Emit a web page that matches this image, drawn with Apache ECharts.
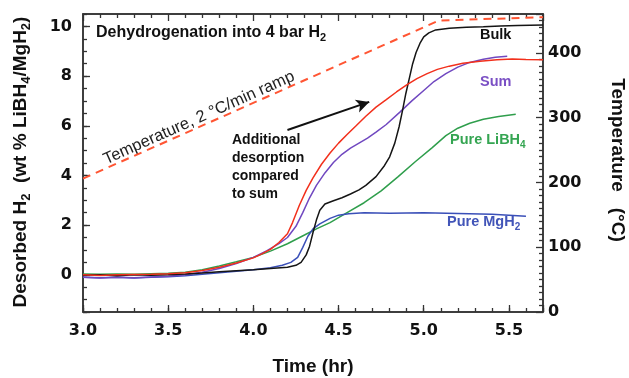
<!DOCTYPE html>
<html><head><meta charset="utf-8">
<script src="https://cdn.jsdelivr.net/npm/echarts@6/dist/echarts.min.js"></script>
<style>html,body{margin:0;padding:0;background:#fff}#c{width:629px;height:378px}</style>
</head><body><div id="c"></div>
<script>
// ---- data (time in hr, desorbed H2 in wt %, temperature in °C) ----
const measuredH2 = [[3.0,0.0],[3.1,-0.03],[3.2,0.0],[3.3,0.01],[3.4,0.02],[3.5,0.04],[3.6,0.08],[3.7,0.17],[3.8,0.3],[3.9,0.47],[4.0,0.68],[4.05,0.84],[4.1,1.02],[4.15,1.3],[4.2,1.65],[4.23,2.1],[4.27,2.8],[4.31,3.4],[4.35,3.9],[4.4,4.45],[4.45,4.9],[4.5,5.3],[4.55,5.65],[4.6,5.98],[4.66,6.38],[4.72,6.75],[4.78,7.05],[4.84,7.36],[4.9,7.65],[4.96,7.9],[5.02,8.1],[5.08,8.27],[5.15,8.4],[5.23,8.52],[5.33,8.6],[5.43,8.66],[5.52,8.69],[5.6,8.67],[5.7,8.66]];
const sumH2 = [[3.0,-0.1],[3.1,-0.13],[3.2,-0.1],[3.3,-0.12],[3.4,-0.09],[3.5,-0.06],[3.6,0.0],[3.7,0.1],[3.8,0.25],[3.9,0.45],[4.0,0.7],[4.08,0.97],[4.15,1.25],[4.2,1.5],[4.25,1.95],[4.29,2.5],[4.33,3.1],[4.37,3.6],[4.42,4.1],[4.47,4.52],[4.52,4.85],[4.57,5.1],[4.62,5.3],[4.67,5.5],[4.72,5.74],[4.78,6.05],[4.86,6.55],[4.93,7.0],[5.0,7.42],[5.06,7.78],[5.13,8.1],[5.2,8.36],[5.27,8.55],[5.35,8.68],[5.42,8.76],[5.49,8.8]];
const bulkH2 = [[3.0,-0.02],[3.1,0.0],[3.2,-0.04],[3.3,0.0],[3.4,-0.02],[3.5,0.0],[3.6,0.03],[3.7,0.07],[3.8,0.12],[3.9,0.16],[4.0,0.2],[4.1,0.25],[4.2,0.3],[4.25,0.38],[4.28,0.5],[4.31,0.8],[4.33,1.15],[4.35,1.7],[4.37,2.2],[4.39,2.6],[4.42,2.85],[4.47,2.98],[4.52,3.1],[4.57,3.25],[4.62,3.42],[4.66,3.6],[4.72,3.95],[4.77,4.4],[4.8,4.75],[4.83,5.3],[4.855,5.95],[4.875,6.6],[4.895,7.3],[4.915,7.9],[4.935,8.5],[4.955,8.95],[4.98,9.35],[5.0,9.58],[5.03,9.74],[5.07,9.86],[5.15,9.93],[5.25,9.97],[5.35,9.99],[5.45,10.02],[5.55,10.04],[5.7,10.06]];
const pureLiBH4 = [[3.0,0.03],[3.1,0.02],[3.2,0.03],[3.3,0.02],[3.4,0.04],[3.5,0.06],[3.6,0.1],[3.7,0.2],[3.8,0.35],[3.9,0.52],[4.0,0.7],[4.1,0.95],[4.2,1.25],[4.3,1.6],[4.37,1.85],[4.45,2.1],[4.55,2.5],[4.65,2.9],[4.75,3.38],[4.85,3.95],[4.95,4.55],[5.05,5.12],[5.13,5.6],[5.2,5.9],[5.27,6.1],[5.35,6.26],[5.44,6.37],[5.54,6.46]];
const pureMgH2 = [[3.0,-0.1],[3.1,-0.12],[3.2,-0.1],[3.3,-0.13],[3.4,-0.1],[3.5,-0.08],[3.6,-0.04],[3.7,0.02],[3.8,0.08],[3.9,0.14],[4.0,0.2],[4.1,0.28],[4.17,0.38],[4.22,0.5],[4.26,0.7],[4.29,1.1],[4.32,1.55],[4.35,1.85],[4.39,2.05],[4.45,2.27],[4.5,2.4],[4.56,2.46],[4.65,2.5],[4.8,2.48],[5.0,2.5],[5.2,2.47],[5.4,2.44],[5.5,2.4],[5.6,2.36]];
const rampTemp = [[3.0,206],[5.09,450],[5.7,455]];
const arrowLine = [[4.20,5.83],[4.68,6.96]];
const xRange = [3.0, 5.7];
const yLeftRange = [-1.5, 10.5];
const yRightRange = [0, 460];

// ---- chart ----
const chart = echarts.init(document.getElementById('c'));
const G = {left:83, right:86, top:14, bottom:66};
const plotH = 378 - G.top - G.bottom;
const pxPerUnit = plotH / (yLeftRange[1] - yLeftRange[0]);
const tickFont = {fontFamily:'DejaVu Sans', fontWeight:'bold', fontSize:16, color:'#111'};
const axLine = ()=>({show:true, onZero:false, lineStyle:{color:'#333', width:1.5}});
const noLine = ()=>({show:false, onZero:false});
const tk = (len)=>({show:true, inside:true, length:len, lineStyle:{color:'#333', width:1.3}});
const isMult = (v,m)=>Math.abs(v/m - Math.round(v/m)) < 1e-6;

const lineS = (name, data, color, z)=>({
  name, type:'line', data, xAxisIndex:0, yAxisIndex:0, showSymbol:false, symbol:'none',
  lineStyle:{color, width:1.5}, z, animation:false
});

const richSet = (color, size, lh)=>({
  m:{fill:color, color, fontFamily:'Liberation Sans', fontWeight:'bold', fontSize:size, lineHeight:lh, verticalAlign:'middle'},
  s:{fill:color, color, fontFamily:'Liberation Sans', fontWeight:'bold', fontSize:Math.round(size*0.66), lineHeight:lh, verticalAlign:'bottom'}
});

chart.setOption({
  animation:false,
  grid:[
    {left:G.left, right:G.right, top:G.top, bottom:G.bottom, outerBoundsMode:'none',
     show:true, borderColor:'#333', borderWidth:1.5, backgroundColor:'rgba(0,0,0,0)'},
    {left:G.left, right:G.right, top:G.top - 1.5*pxPerUnit, bottom:G.bottom, outerBoundsMode:'none'}
  ],
  xAxis:[
    {type:'value', gridIndex:0, position:'bottom', min:xRange[0], max:xRange[1], interval:0.5,
     axisLine:axLine(), axisTick:tk(7), splitLine:{show:false},
     axisLabel:{...tickFont, margin:11, formatter:v=>isMult(v,0.5)?v.toFixed(1):''}},
    {type:'value', gridIndex:0, position:'bottom', min:xRange[0], max:xRange[1], interval:0.1,
     axisLine:noLine(), axisTick:tk(4), axisLabel:{show:false}, splitLine:{show:false}},
    {type:'value', gridIndex:0, position:'top', min:xRange[0], max:xRange[1], interval:0.5,
     axisLine:axLine(), axisTick:tk(7), axisLabel:{show:false}, splitLine:{show:false},
     minorTick:{show:true, splitNumber:5, length:4, lineStyle:{color:'#333', width:1.3}}},
    {type:'value', gridIndex:1, show:false, min:0, max:1}
  ],
  yAxis:[
    {type:'value', gridIndex:0, position:'left', min:yLeftRange[0], max:yLeftRange[1], interval:0.5,
     axisLine:axLine(), axisTick:tk(4), splitLine:{show:false},
     axisLabel:{...tickFont, margin:11, formatter:v=>(isMult(v,2))?String(Math.round(v)):''}},
    {type:'value', gridIndex:0, position:'right', min:yRightRange[0], max:yRightRange[1], interval:100,
     axisLine:axLine(), axisTick:tk(7), splitLine:{show:false},
     minorTick:{show:true, splitNumber:10, length:4, lineStyle:{color:'#333', width:1.3}},
     axisLabel:{...tickFont, margin:5, formatter:v=>isMult(v,100)?String(v):''}},
    {type:'value', gridIndex:1, position:'left', inverse:true, min:-12, max:1.5, interval:2,
     axisLine:noLine(), axisTick:tk(7), axisLabel:{show:false}, splitLine:{show:false}}
  ],
  series:[
    lineS('Pure LiBH4', pureLiBH4, '#2f9e4c', 3),
    lineS('Pure MgH2', pureMgH2, '#3a4fb8', 4),
    lineS('Sum', sumH2, '#7048c0', 5),
    lineS('Bulk', bulkH2, '#151515', 6),
    lineS('Measured', measuredH2, '#f2301c', 7),
    {name:'Temperature', type:'line', data:rampTemp, xAxisIndex:0, yAxisIndex:1, showSymbol:false, symbol:'none',
     lineStyle:{color:'#ff5533', width:2, type:[8,6]}, z:2, animation:false},
    {name:'arrow', type:'line', data:[], xAxisIndex:0, yAxisIndex:0, z:8,
     markLine:{silent:true, symbol:['none','arrow'], symbolSize:[10,13], label:{show:false},
       lineStyle:{color:'#111', width:2, type:'solid'},
       data:[[{coord:arrowLine[0]},{coord:arrowLine[1]}]], animation:false}}
  ]
});

// text annotations added in a second pass
chart.setOption({
  graphic:[
    {type:'text', x:313, y:367, style:{text:'Time (hr)', fill:'#111', font:'bold 19px "Liberation Sans"', align:'center', verticalAlign:'middle'}},
    {type:'text', x:21, y:162, rotation:Math.PI/2, style:{text:'{m|Desorbed H}{s|2}{m|  (wt % LiBH}{s|4}{m|/MgH}{s|2}{m|)}',
      rich:richSet('#111',19,24), align:'center', verticalAlign:'middle'}},
    {type:'text', x:617, y:160, rotation:-Math.PI/2, style:{text:'Temperature   (°C)', fill:'#111', font:'bold 19px "Liberation Sans"', align:'center', verticalAlign:'middle'}},
    {type:'text', x:96, y:23, style:{text:'{m|Dehydrogenation into 4 bar H}{s|2}', rich:richSet('#111',16,20), verticalAlign:'top'}},
    {type:'text', x:480, y:25, style:{text:'{m|Bulk}', rich:richSet('#111',14.5,20), verticalAlign:'top'}},
    {type:'text', x:480, y:72, style:{text:'{m|Sum}', rich:richSet('#7a4fc4',14.5,20), verticalAlign:'top'}},
    {type:'text', x:450, y:130, style:{text:'{m|Pure LiBH}{s|4}', rich:richSet('#35a552',14.5,20), verticalAlign:'top'}},
    {type:'text', x:447, y:212, style:{text:'{m|Pure MgH}{s|2}', rich:richSet('#4255b8',14.5,20), verticalAlign:'top'}},
    {type:'text', x:232, y:131, style:{text:'Additional\ndesorption\ncompared\nto sum', fill:'#111',
      font:'bold 14px "Liberation Sans"', lineHeight:18, verticalAlign:'top'}},
    {type:'text', x:199, y:118, rotation:0.42, style:{text:'Temperature, 2 °C/min ramp', fill:'#222',
      font:'16.5px "Liberation Sans"', align:'center', verticalAlign:'middle'}}
  ]
});
</script></body></html>
